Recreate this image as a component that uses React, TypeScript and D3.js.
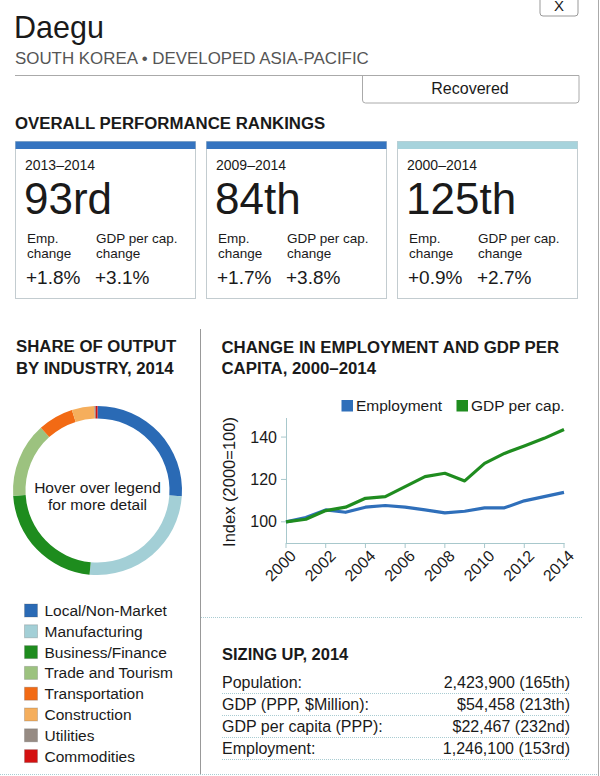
import React from 'react'
import * as d3 from 'd3'

const FONT = '"Liberation Sans", Arial, sans-serif'
const INK = '#1a1a1a'
const DOTTED = '#a9ccd2'
const HEAD = 16.8

// ranking cards
const PERIODS = ['2013–2014', '2009–2014', '2000–2014']
const RANKS = ['93rd', '84th', '125th']
const EMP_CHANGE = ['+1.8%', '+1.7%', '+0.9%']
const GDP_CHANGE = ['+3.1%', '+3.8%', '+2.7%']
const CARD_BAR = ['#3574c0', '#3574c0', '#a7d3dc']

// share of output donut
const INDUSTRIES = [
  'Local/Non-Market',
  'Manufacturing',
  'Business/Finance',
  'Trade and Tourism',
  'Transportation',
  'Construction',
  'Utilities',
  'Commodities',
]
const SHARES = [26.1, 25.4, 22.5, 14.3, 6.8, 4.3, 0.25, 0.35]
const IND_COLORS = ['#2a6ab5', '#a3cfd6', '#1e8c1e', '#9cc27f', '#f26a14', '#f5ae5c', '#968b83', '#d41111']

// index lines
const YEARS = [2000, 2001, 2002, 2003, 2004, 2005, 2006, 2007, 2008, 2009, 2010, 2011, 2012, 2013, 2014]
const EMPLOYMENT = [100, 102, 105.6, 104.5, 106.9, 107.7, 106.9, 105.6, 104.2, 105, 106.6, 106.6, 109.9, 111.9, 113.9]
const GDP_PER_CAP = [100, 101.2, 105.3, 106.9, 111.1, 111.9, 116.6, 121.3, 122.9, 119.3, 127.6, 132.3, 135.8, 139.4, 143.6]
const Y_TICKS = [100, 120, 140]
const X_TICKS = [2000, 2002, 2004, 2006, 2008, 2010, 2012, 2014]
const LINE_COLORS = { emp: '#2f6fba', gdp: '#1f8c1f' }

// sizing up
const SIZE_LABELS = ['Population:', 'GDP (PPP, $Million):', 'GDP per capita (PPP):', 'Employment:']
const SIZE_VALUES = ['2,423,900 (165th)', '$54,458 (213th)', '$22,467 (232nd)', '1,246,100 (153rd)']

function Header() {
  return (
    <g>
      <path d="M540,0 V13 Q540,16 543,16 H575 Q578,16 578,13 V0" fill="none" stroke="#999" />
      <text x={559} y={11} textAnchor="middle" fontSize={15} fill={INK}>X</text>
      <text x={14} y={38} fontSize={30.5} fill={INK}>Daegu</text>
      <text x={15} y={64} fontSize={16.9} fill="#555">SOUTH KOREA • DEVELOPED ASIA-PACIFIC</text>
      <line x1={15} x2={579} y1={75.5} y2={75.5} stroke="#aaa" />
      <path d="M362.5,75.5 V100 Q362.5,103 365.5,103 H576 Q579,103 579,100 V75.5" fill="none" stroke="#aaa" />
      <text x={470} y={94} textAnchor="middle" fontSize={16} fill={INK}>Recovered</text>
    </g>
  )
}

function Rankings() {
  const band = d3.scaleBand<number>().domain([0, 1, 2]).range([15, 577]).paddingInner(0.0576)
  const w = band.bandwidth()
  return (
    <g>
      <text x={15} y={128.5} fontSize={HEAD} fontWeight="bold" fill={INK}>OVERALL PERFORMANCE RANKINGS</text>
      {PERIODS.map((p, i) => {
        const x = band(i) as number
        return (
          <g key={p}>
            <rect x={x + 0.5} y={141.5} width={w} height={157} fill="#fff" stroke="#c3ccd0" />
            <rect x={x + 0.5} y={141.5} width={w} height={7.5} fill={CARD_BAR[i]} />
            <text x={x + 10} y={169.5} fontSize={14} fill={INK}>{p}</text>
            <text x={x + 9} y={214} fontSize={44} fill={INK}>{RANKS[i]}</text>
            <text x={x + 12} y={243} fontSize={13.5} fill={INK}>Emp.</text>
            <text x={x + 12} y={258} fontSize={13.5} fill={INK}>change</text>
            <text x={x + 81} y={243} fontSize={13.5} fill={INK}>GDP per cap.</text>
            <text x={x + 81} y={258} fontSize={13.5} fill={INK}>change</text>
            <text x={x + 11} y={284} fontSize={19} fill={INK}>{EMP_CHANGE[i]}</text>
            <text x={x + 80} y={284} fontSize={19} fill={INK}>{GDP_CHANGE[i]}</text>
          </g>
        )
      })}
    </g>
  )
}

function Donut() {
  const cx = 97.5
  const cy = 490.5
  const pie = d3.pie<number>().sort(null).value(d => d)
  const arc = d3.arc<d3.PieArcDatum<number>>().innerRadius(72).outerRadius(84.5)
  const arcs = pie(SHARES)
  return (
    <g>
      <text x={16} y={351.5} fontSize={HEAD} fontWeight="bold" fill={INK}>SHARE OF OUTPUT</text>
      <text x={16} y={373.5} fontSize={HEAD} fontWeight="bold" fill={INK}>BY INDUSTRY, 2014</text>
      <g transform={`translate(${cx},${cy})`}>
        {arcs.map((a, i) => (
          <path key={INDUSTRIES[i]} d={arc(a) || ''} fill={IND_COLORS[i]} />
        ))}
        <text x={0} y={2} textAnchor="middle" fontSize={15.5} fill={INK}>Hover over legend</text>
        <text x={0} y={19} textAnchor="middle" fontSize={15.5} fill={INK}>for more detail</text>
      </g>
      {INDUSTRIES.map((name, i) => (
        <g key={name} transform={`translate(0,${604 + i * 20.8})`}>
          <rect x={24.5} y={0} width={13} height={13} fill={IND_COLORS[i]} stroke="#555" strokeOpacity={0.25} />
          <text x={44.5} y={12} fontSize={15.5} fill={INK}>{name}</text>
        </g>
      ))}
    </g>
  )
}

function LineChart() {
  const x = d3.scaleLinear().domain([2000, 2014]).range([286, 564])
  const y = d3.scaleLinear().domain([90, 149]).range([543, 418])
  const line = d3.line<number>().x((_, i) => x(YEARS[i])).y(d => y(d))
  const axisColor = '#a8c8cc'
  return (
    <g>
      <text x={221.5} y={352.5} fontSize={HEAD} fontWeight="bold" fill={INK}>CHANGE IN EMPLOYMENT AND GDP PER</text>
      <text x={221.5} y={373.5} fontSize={HEAD} fontWeight="bold" fill={INK}>CAPITA, 2000–2014</text>

      <rect x={341.5} y={400} width={11.5} height={11.5} fill={LINE_COLORS.emp} />
      <text x={356} y={411} fontSize={15.5} fill={INK}>Employment</text>
      <rect x={456.5} y={400} width={11.5} height={11.5} fill={LINE_COLORS.gdp} />
      <text x={471} y={411} fontSize={15.5} fill={INK}>GDP per cap.</text>

      <line x1={286.5} x2={286.5} y1={418} y2={543} stroke={axisColor} />
      <line x1={286} x2={564.5} y1={543.5} y2={543.5} stroke={axisColor} />
      {Y_TICKS.map(t => (
        <g key={t}>
          <line x1={281} x2={286} y1={y(t)} y2={y(t)} stroke={axisColor} />
          <text x={277} y={y(t) + 5.5} textAnchor="end" fontSize={16} fill={INK}>{t}</text>
        </g>
      ))}
      {X_TICKS.map(t => (
        <g key={t}>
          <line x1={x(t)} x2={x(t)} y1={543} y2={548} stroke={axisColor} />
          <text
            transform={`translate(${x(t) + 11},${557}) rotate(-45)`}
            textAnchor="end"
            fontSize={16}
            fill={INK}
          >
            {t}
          </text>
        </g>
      ))}
      <text transform="translate(235,482) rotate(-90)" textAnchor="middle" fontSize={16.5} fill={INK}>
        Index (2000=100)
      </text>

      <path d={line(EMPLOYMENT) || ''} fill="none" stroke={LINE_COLORS.emp} strokeWidth={3.2} strokeLinejoin="round" />
      <path d={line(GDP_PER_CAP) || ''} fill="none" stroke={LINE_COLORS.gdp} strokeWidth={3.2} strokeLinejoin="round" />
    </g>
  )
}

function SizingUp() {
  const rows = d3.scaleLinear().domain([0, 3]).range([688, 754])
  return (
    <g>
      <text x={222} y={660} fontSize={16.5} fontWeight="bold" fill={INK}>SIZING UP, 2014</text>
      {SIZE_LABELS.map((label, i) => (
        <g key={label}>
          <text x={222} y={rows(i)} fontSize={16} fill={INK}>{label}</text>
          <text x={570} y={rows(i)} textAnchor="end" fontSize={16} fill={INK}>{SIZE_VALUES[i]}</text>
          <line x1={222} x2={570} y1={rows(i) + 5.5} y2={rows(i) + 5.5} stroke={DOTTED} strokeDasharray="1,1" />
        </g>
      ))}
    </g>
  )
}

export default function App() {
  return (
    <svg
      width={600}
      height={776}
      viewBox="0 0 600 776"
      style={{ position: 'absolute', left: 0, top: 0, background: '#fff', fontFamily: FONT }}
    >
      <rect width={600} height={776} fill="#fff" />
      <line x1={598.5} x2={598.5} y1={0} y2={776} stroke="#aaa" />
      <Header />
      <Rankings />
      <line x1={200.5} x2={200.5} y1={329} y2={774} stroke="#999" />
      <line x1={201} x2={583} y1={617.5} y2={617.5} stroke={DOTTED} strokeDasharray="1,1" />
      <line x1={0} x2={598} y1={774.5} y2={774.5} stroke={DOTTED} strokeDasharray="1,1" />
      <Donut />
      <LineChart />
      <SizingUp />
    </svg>
  )
}
